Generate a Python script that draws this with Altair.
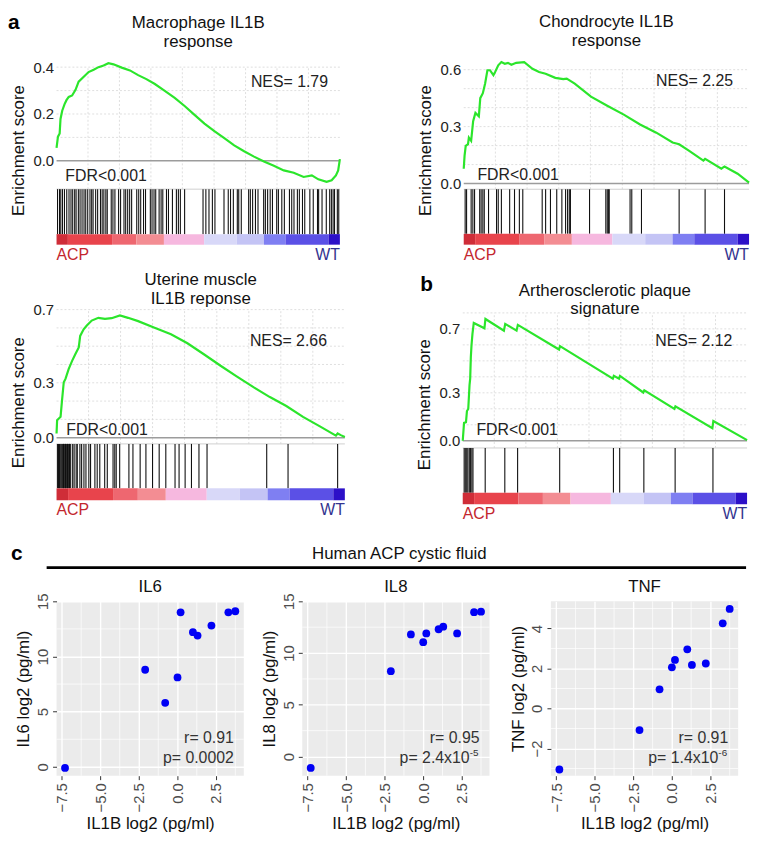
import altair as alt
import pandas as pd

FONT = "Liberation Sans"

# ---------------- GSEA data (rank in % of ranked list, enrichment score) ----------------
mac_rank = [0, 0.5, 1.1, 1.4, 2.0, 2.8, 3.5, 4.3, 5.5, 6.7, 7.8, 9.6, 11.3, 13.1, 14.8, 16.6, 18.3,
            20.1, 23.0, 25.9, 28.8, 31.7, 34.7, 38.2, 41.7, 45.2, 48.7, 52.2, 55.7, 59.2, 62.7, 66.2,
            69.7, 73.2, 76.7, 80.2, 83.7, 87.2, 90.1, 92.4, 95.3, 97.1, 98.6, 99.4, 100]
mac_es = [0.055, 0.103, 0.117, 0.179, 0.214, 0.241, 0.259, 0.273, 0.279, 0.303, 0.338, 0.359, 0.379,
          0.389, 0.400, 0.407, 0.417, 0.412, 0.398, 0.386, 0.366, 0.349, 0.328, 0.299, 0.269, 0.234,
          0.196, 0.159, 0.127, 0.097, 0.066, 0.041, 0.018, -0.003, -0.021, -0.041, -0.051, -0.069,
          -0.062, -0.079, -0.090, -0.083, -0.062, -0.041, 0.007]
mac_hits = [0.35, 1.05, 1.5, 2.1, 2.8, 3.6, 4.4, 5.1, 5.7, 6.4, 6.9, 7.7, 8.3, 9.0, 9.7, 10.3, 11.0,
            11.8, 12.4, 12.9, 13.8, 14.5, 15.5, 16.1, 16.7, 17.4, 17.9, 19.3, 19.9, 20.6, 21.9, 22.6,
            23.8, 24.4, 25.1, 25.8, 26.5, 28.3, 29.0, 29.7, 30.7, 31.4, 33.1, 33.7, 34.4, 35.0, 36.2,
            36.9, 37.5, 38.8, 39.5, 40.9, 42.3, 43.0, 43.7, 45.2, 51.7, 52.7, 53.8, 55.0, 55.9, 59.1,
            60.6, 61.4, 62.4, 63.8, 64.3, 65.2, 67.8, 68.4, 69.2, 70.2, 71.1, 73.1, 73.7, 74.5, 75.4,
            76.2, 77.7, 78.3, 79.5, 80.4, 82.2, 83.0, 83.8, 85.0, 85.7, 86.8, 87.6, 89.4, 90.6, 92.1,
            92.5, 93.7, 95.2, 96.4, 97.0, 97.6, 98.1, 99.1, 99.6]

cho_rank = [0, 0.3, 0.7, 1.5, 1.8, 2.6, 3.3, 4.1, 5.3, 5.8, 6.7, 7.5, 8.3, 9.2, 10.4, 11.0, 12.1,
            13.2, 14.4, 15.5, 16.7, 18.4, 21.2, 24.1, 26.4, 28.7, 32.1, 34.9, 36.1, 38.9, 44.6, 50.3,
            56.1, 61.8, 67.5, 73.2, 75.5, 78.9, 84.0, 84.6, 90.3, 91.4, 96.0, 100]
cho_es = [0.078, 0.147, 0.199, 0.208, 0.242, 0.225, 0.329, 0.372, 0.354, 0.450, 0.476, 0.527, 0.597,
          0.597, 0.571, 0.588, 0.623, 0.640, 0.631, 0.636, 0.626, 0.636, 0.640, 0.605, 0.588, 0.579,
          0.557, 0.550, 0.553, 0.527, 0.458, 0.410, 0.363, 0.311, 0.268, 0.216, 0.207, 0.173, 0.121,
          0.130, 0.078, 0.090, 0.052, 0.005]
cho_hits = [0.5, 1.0, 2.6, 3.2, 3.8, 5.6, 6.1, 6.7, 7.2, 8.7, 11.5, 12.1, 13.2, 16.1, 17.8, 19.5,
            20.7, 27.5, 28.7, 30.4, 32.6, 34.4, 35.7, 36.4, 37.0, 37.4, 44.1, 49.8, 50.3, 50.7, 51.0,
            58.3, 58.9, 62.3, 75.5, 84.6, 91.4]

ute_rank = [0, 0.2, 0.8, 1.4, 1.9, 2.5, 3.1, 4.2, 5.4, 6.5, 7.7, 8.2, 9.4, 10.5, 12.2, 14.5, 16.8,
            19.1, 22.0, 24.8, 28.3, 34.0, 39.7, 45.4, 51.1, 56.9, 62.6, 68.3, 74.0, 79.7, 85.5, 91.2,
            96.9, 97.5, 98.6, 100]
ute_es = [0.023, 0.096, 0.105, 0.114, 0.204, 0.303, 0.321, 0.375, 0.420, 0.456, 0.493, 0.556, 0.592,
          0.613, 0.640, 0.655, 0.649, 0.653, 0.668, 0.655, 0.637, 0.601, 0.565, 0.516, 0.456, 0.393,
          0.334, 0.276, 0.222, 0.173, 0.114, 0.063, 0.011, 0.023, 0.014, 0.004]
ute_hits = [0.3, 0.7, 1.0, 1.3, 1.8, 2.0, 2.4, 2.7, 3.1, 3.4, 3.8, 4.2, 4.5, 4.9, 5.6, 6.1, 6.8, 7.2,
            8.1, 8.7, 9.5, 10.2, 11.2, 11.8, 13.3, 14.1, 15.0, 16.7, 17.6, 19.6, 20.2, 20.7, 21.9,
            25.1, 26.5, 29.0, 31.0, 33.3, 35.6, 37.9, 41.1, 42.5, 44.6, 46.8, 49.4, 52.2, 72.9, 80.3,
            97.5]

ath_rank = [0, 0.46, 1.14, 1.48, 1.94, 2.39, 2.62, 2.85, 3.08, 3.42, 3.88, 7.64, 7.98, 14.48, 14.94,
            18.93, 19.38, 33.87, 34.21, 52.79, 53.14, 54.96, 55.30, 63.51, 63.85, 74.46, 74.80, 87.80,
            88.14, 100]
ath_es = [0.0, 0.112, 0.116, 0.186, 0.199, 0.348, 0.389, 0.524, 0.596, 0.669, 0.737, 0.704, 0.762,
          0.689, 0.731, 0.689, 0.725, 0.571, 0.592, 0.389, 0.406, 0.389, 0.406, 0.302, 0.315, 0.199,
          0.215, 0.079, 0.124, 0.004]
ath_hits = [0.5, 0.9, 1.4, 1.8, 2.3, 2.7, 3.2, 3.6, 7.9, 14.8, 19.3, 34.1, 53.0, 55.2, 63.7, 74.7, 88.0]

# ranked-list colour bar
strip_start = [0, 4.0, 19.6, 28.2, 37.9, 52.1, 63.6, 73.2, 80.8, 96.0]
strip_end = [4.0, 19.6, 28.2, 37.9, 52.1, 63.6, 73.2, 80.8, 96.0, 100]
strip_color = ["#cf2d38", "#e8444c", "#ee6770", "#f38d93", "#f6b8df", "#d8d8f8", "#c4c4f5",
               "#7f7ff2", "#5b50e6", "#2c10c8"]

grid_x = [11.1, 22.2, 33.3, 44.4, 55.6, 66.7, 77.8, 88.9]

# ---------------- scatter data ----------------
il1b = [-7.3, -2.1, -0.8, 0.0, 0.2, 1.0, 1.3, 2.2, 3.3, 3.75]
il6 = [-0.1, 8.8, 5.8, 8.1, 14.0, 12.2, 11.9, 12.8, 14.0, 14.1]
il8 = [-1.1, 8.25, 11.8, 11.05, 11.9, 12.3, 12.55, 11.9, 13.95, 14.0]
tnf = [-3.05, -1.08, 0.96, 2.06, 2.43, 2.96, 2.18, 2.25, 4.26, 4.98]


def gsea(title, rank, es, hits, nes, ticks, ymax, grid_top, bar_top, bar_bot, strip_bot, w, h,
         nes_xy, fdr_xy, title_off=3, title_dy=0, letter=None, letter_xy=None):
    xs = alt.Scale(domain=[0, 100], nice=False, zero=False)
    ys = alt.Scale(domain=[strip_bot, ymax], nice=False, zero=False)
    yax = alt.Axis(values=ticks, format=".1f", title="Enrichment score", grid=False, domain=False,
                   ticks=False, labelFontSize=15, labelColor="#222", titleFontSize=17,
                   titleFontWeight="normal", titleColor="#111", labelPadding=3, titlePadding=6)
    gy_vals = [round(0.1 * k, 1) for k in range(1, 10) if 0.1 * k <= grid_top + 0.001]
    hg = alt.Chart(pd.DataFrame({"y": gy_vals})).mark_rule(
        color="#d6d6d6", strokeDash=[2, 2], strokeWidth=0.8).encode(
        y=alt.Y("y:Q", scale=ys, axis=yax), x=alt.value(0), x2=alt.value(w))
    vg = alt.Chart(pd.DataFrame({"x": grid_x, "y0": [bar_top] * len(grid_x),
                                 "y1": [grid_top] * len(grid_x)})).mark_rule(
        color="#d6d6d6", strokeDash=[2, 2], strokeWidth=0.8).encode(
        x=alt.X("x:Q", scale=xs, axis=None), y=alt.Y("y0:Q", scale=ys, axis=yax), y2="y1:Q")
    sep = alt.Chart(pd.DataFrame({"y": [bar_top]})).mark_rule(
        color="#cfcfcf", strokeWidth=1).encode(
        y=alt.Y("y:Q", scale=ys, axis=yax), x=alt.value(0), x2=alt.value(w))
    zero = alt.Chart(pd.DataFrame({"y": [0.0]})).mark_rule(
        color="#9c9c9c", strokeWidth=1.5).encode(
        y=alt.Y("y:Q", scale=ys, axis=yax), x=alt.value(0), x2=alt.value(w))
    curve = alt.Chart(pd.DataFrame({"rank": rank, "es": es})).mark_line(
        color="#2be52b", strokeWidth=2.2).encode(
        x=alt.X("rank:Q", scale=xs, axis=None),
        y=alt.Y("es:Q", scale=ys, axis=yax))
    bars = alt.Chart(pd.DataFrame({"x": hits, "y0": [bar_top] * len(hits),
                                   "y1": [bar_bot] * len(hits)})).mark_rule(
        color="#111", strokeWidth=1.1).encode(
        x=alt.X("x:Q", scale=xs, axis=None), y=alt.Y("y0:Q", scale=ys, axis=yax), y2="y1:Q")
    strip = alt.Chart(pd.DataFrame({"s": strip_start, "e": strip_end, "c": strip_color,
                                    "y0": [bar_bot] * len(strip_start),
                                    "y1": [strip_bot] * len(strip_start)})).mark_rect().encode(
        x=alt.X("s:Q", scale=xs, axis=None), x2="e:Q",
        y=alt.Y("y0:Q", scale=ys, axis=yax), y2="y1:Q",
        color=alt.Color("c:N", scale=None))
    nes_t = alt.Chart(pd.DataFrame({"x": [nes_xy[0]], "y": [nes_xy[1]], "t": ["NES= " + nes]})).mark_text(
        align="right", baseline="middle", fontSize=16, color="#222").encode(
        x=alt.X("x:Q", scale=xs, axis=None), y=alt.Y("y:Q", scale=ys, axis=yax), text="t:N")
    fdr_t = alt.Chart(pd.DataFrame({"x": [fdr_xy[0]], "y": [fdr_xy[1]], "t": ["FDR<0.001"]})).mark_text(
        align="left", baseline="middle", fontSize=16, color="#222").encode(
        x=alt.X("x:Q", scale=xs, axis=None), y=alt.Y("y:Q", scale=ys, axis=yax), text="t:N")
    lab = pd.DataFrame({"a": ["ACP"], "b": ["WT"]})
    acp = alt.Chart(lab).mark_text(align="left", baseline="top", fontSize=16, color="#c3262e").encode(
        x=alt.value(0), y=alt.value(h + 2), text="a:N")
    wt = alt.Chart(lab).mark_text(align="right", baseline="top", fontSize=16, color="#33338f").encode(
        x=alt.value(w), y=alt.value(h + 2), text="b:N")
    layers = [hg, vg, sep, zero, bars, strip, curve, nes_t, fdr_t, acp, wt]
    if letter:
        layers.append(alt.Chart(pd.DataFrame({"t": [letter]})).mark_text(
            align="left", baseline="middle", fontSize=21, fontWeight="bold", color="#000").encode(
            x=alt.value(letter_xy[0]), y=alt.value(letter_xy[1]), text="t:N"))
    return alt.layer(*layers).properties(
        width=w, height=h,
        title=alt.TitleParams(title, fontSize=17, fontWeight="normal", lineHeight=19, offset=title_off,
                              dy=title_dy, anchor="middle", color="#111", frame="group"),
        view=alt.ViewBackground(stroke=None))


def scatter(title, yv, ytitle, ydom, yticks, yminor, r_txt, p_main, p_sup, w, h, t_off):
    xs = alt.Scale(domain=[-7.85, 4.3], nice=False, zero=False)
    ys = alt.Scale(domain=ydom, nice=False, zero=False)
    xax = alt.Axis(values=[-7.5, -5.0, -2.5, 0.0, 2.5], format=".1f", labelAngle=270,
                   title="IL1B log2 (pg/ml)", grid=True, gridColor="white", gridWidth=1.4,
                   domain=False, tickColor="#333", tickSize=4, labelFontSize=15, labelColor="#4d4d4d",
                   labelPadding=3, titleFontSize=17, titleFontWeight="normal", titleColor="#111",
                   titlePadding=4)
    yax = alt.Axis(values=yticks, format="d", labelAngle=270, labelAlign="center",
                   labelBaseline="bottom", title=ytitle, grid=True, gridColor="white", gridWidth=1.4,
                   domain=False, tickColor="#333", tickSize=4, labelFontSize=15, labelColor="#4d4d4d",
                   labelPadding=2, titleFontSize=17, titleFontWeight="normal", titleColor="#111",
                   titlePadding=3)
    mx = alt.Chart(pd.DataFrame({"x": [-6.25, -3.75, -1.25, 1.25, 3.75]})).mark_rule(
        color="white", strokeWidth=0.7).encode(x=alt.X("x:Q", scale=xs, axis=xax))
    my = alt.Chart(pd.DataFrame({"y": yminor})).mark_rule(
        color="white", strokeWidth=0.7).encode(y=alt.Y("y:Q", scale=ys, axis=yax))
    pts = alt.Chart(pd.DataFrame({"il1b": il1b, "v": yv})).mark_circle(
        size=62, color="#0000f5", opacity=1).encode(
        x=alt.X("il1b:Q", scale=xs, axis=xax),
        y=alt.Y("v:Q", scale=ys, axis=yax))
    tdf = pd.DataFrame({"r": [r_txt], "p": [p_main], "s": [p_sup]})
    rt = alt.Chart(tdf).mark_text(align="right", baseline="middle", fontSize=16, color="#333").encode(
        x=alt.value(w - 10), y=alt.value(h - 38), text="r:N")
    pt = alt.Chart(tdf).mark_text(align="right", baseline="middle", fontSize=16, color="#333").encode(
        x=alt.value(w - (10 if not p_sup else 20)), y=alt.value(h - 18), text="p:N")
    layers = [mx, my, pts, rt, pt]
    if p_sup:
        layers.append(alt.Chart(tdf).mark_text(align="left", baseline="middle", fontSize=10,
                                               color="#333").encode(
            x=alt.value(w - 20), y=alt.value(h - 23), text="s:N"))
    return alt.layer(*layers).properties(
        width=w, height=h,
        title=alt.TitleParams(title, fontSize=17, fontWeight="normal", offset=t_off, anchor="middle",
                              color="#111", frame="group"),
        view=alt.ViewBackground(fill="#EBEBEB", stroke=None))


p1 = gsea(["Macrophage IL1B", "response"], mac_rank, mac_es, mac_hits, "1.79", [0.0, 0.2, 0.4],
          0.45, 0.4, -0.121, -0.313, -0.358, 286, 191, (95.8, 0.335), (3.1, -0.063),
          title_off=4, title_dy=43.5, letter="a", letter_xy=(-49, -33))
p2 = gsea(["Chondrocyte IL1B", "response"], cho_rank, cho_es, cho_hits, "2.25", [0.0, 0.3, 0.6],
          0.675, 0.6, -0.03, -0.265, -0.322, 288, 191, (94.4, 0.539), (4.8, 0.043), title_off=6)
p3 = gsea(["Uterine muscle", "IL1B reponse"], ute_rank, ute_es, ute_hits, "2.66", [0.0, 0.3, 0.7],
          0.73, 0.7, -0.034, -0.277, -0.342, 291, 198, (93.8, 0.529), (3.4, 0.042), title_off=-5)
p4 = gsea(["Artherosclerotic plaque", "signature"], ath_rank, ath_es, ath_hits, "2.12", [0.0, 0.3, 0.7],
          0.855, 0.8, -0.045, -0.325, -0.397, 287, 202, (94.8, 0.626), (4.8, 0.068),
          title_off=-15, title_dy=29.5, letter="b", letter_xy=(-43, -19))

s1 = scatter("IL6", il6, "IL6 log2 (pg/ml)", [-0.8, 15.0], [0, 5, 10, 15], [2.5, 7.5, 12.5],
             "r= 0.91", "p= 0.0002", "", 189, 176, -3)
s2 = scatter("IL8", il8, "IL8 log2 (pg/ml)", [-1.85, 15.0], [0, 5, 10, 15], [2.5, 7.5, 12.5],
             "r= 0.95", "p= 2.4x10", "-5", 189, 176, -3)
s3 = scatter("TNF", tnf, "TNF log2 (pg/ml)", [-3.36, 5.36], [-2, 0, 2, 4], [-3, -1, 1, 3, 5],
             "r= 0.91", "p= 1.4x10", "-6", 189, 176, 5.5)

hdr = pd.DataFrame({"t": ["Human ACP cystic fluid"], "c": ["c"]})
header = alt.layer(
    alt.Chart(hdr).mark_text(fontSize=17, color="#111", baseline="middle").encode(
        x=alt.value(346), y=alt.value(24), text="t:N"),
    alt.Chart(hdr).mark_text(fontSize=21, fontWeight="bold", align="left", baseline="middle").encode(
        x=alt.value(-46), y=alt.value(24), text="c:N"),
    alt.Chart(hdr).mark_rule(strokeWidth=3, color="#000").encode(
        x=alt.value(-10), x2=alt.value(696), y=alt.value(38)),
).properties(width=696, height=40, view=alt.ViewBackground(stroke=None))

row1 = alt.hconcat(p1, p2, spacing=72)
row2 = alt.hconcat(p3, p4, spacing=66)
row3 = alt.hconcat(alt.hconcat(s1, s2, spacing=16), s3, spacing=19)

chart = alt.vconcat(row1, row2, header, row3, spacing=8).properties(
    padding=0
).configure(font=FONT).configure_view(stroke=None)

chart.save("out.html", embed_options={"renderer": "svg", "actions": False})
